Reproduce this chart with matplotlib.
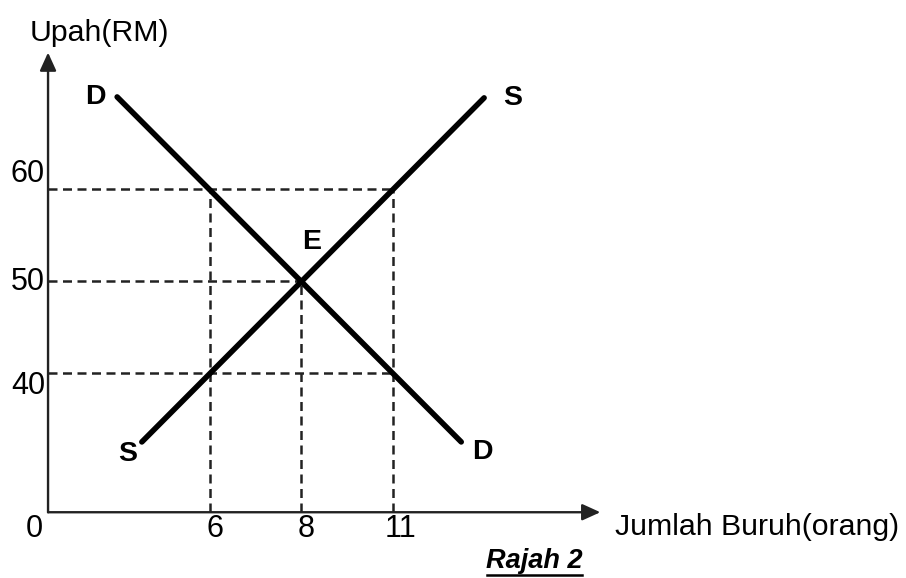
import matplotlib.pyplot as plt
from matplotlib.lines import Line2D
from matplotlib.transforms import offset_copy

plt.rcParams['font.family'] = ['Liberation Sans', 'DejaVu Sans']

# wage levels (RM) and labour quantities; x axis is schematic so the
# quantities sit on evenly spaced positions
wages = [60, 50, 40]
qty_labels = ['6', '8', '11']
qty_pos = [0, 1, 2]

# points on the demand and supply curves (quantity position, wage)
demand_pts = [(0, 60), (1, 50), (2, 40)]
supply_pts = [(0, 40), (1, 50), (2, 60)]

# curve end points as drawn
d_x = [-1.01, 2.75]
d_y = [69.9, 32.6]
s_x = [-0.74, 3.0]
s_y = [32.6, 69.8]
eq_x, eq_y = 1, 50

# axis origin (labelled 0) and arrow tips
x0, y0 = -1.765, 25.0
x_end, y_end = 4.27, 74.7

font_lab = {'family': ['Liberation Sans', 'DejaVu Sans'], 'size': 21.8}
font_tick = {'family': ['Liberation Sans', 'DejaVu Sans'], 'size': 22}
font_curve = {'family': ['Liberation Sans', 'DejaVu Sans'], 'size': 20.5, 'weight': 'bold'}

fig = plt.figure(figsize=(9.06, 5.78), dpi=100)
ax = fig.add_axes([0, 0, 1, 1])
ax.set_xlim(-2.29, 7.61)
ax.set_ylim(17.89, 80.38)
ax.axis('off')

def off(dx, dy):
    # offset in pixels (y up) -> points
    return offset_copy(ax.transData, fig=fig, x=dx * 0.72, y=dy * 0.72, units='points')

# axes with arrows
arrow = dict(arrowstyle='-|>,head_length=0.55,head_width=0.25', lw=1.7, color='#222222',
             mutation_scale=20, shrinkA=0, shrinkB=0)
ax.annotate('', xy=(x0, y_end), xytext=(x0, y0), arrowprops=arrow)
ax.annotate('', xy=(x_end, y0), xytext=(x0, y0), arrowprops=arrow)

# dashed guide lines
dash = dict(color='#222222', lw=1.8, linestyle=(0, (3.6, 2.2)))
for w in wages:
    xe = max(p for p, v in demand_pts + supply_pts if v == w)
    ax.plot([x0, xe], [w, w], **dash)
for p in qty_pos:
    ye = max(v for q, v in demand_pts + supply_pts if q == p)
    ax.plot([p, p], [y0, ye], **dash)

# demand and supply curves
ax.plot(d_x, d_y, color='black', lw=4.0, solid_capstyle='round')
ax.plot(s_x, s_y, color='black', lw=4.0, solid_capstyle='round')

# curve labels
ax.text(d_x[0], d_y[0], 'D', transform=off(-22, 0), ha='center', va='center', fontdict=font_curve)
ax.text(d_x[1], d_y[1], 'D', transform=off(21, -10), ha='center', va='center', fontdict=font_curve)
ax.text(s_x[0], s_y[0], 'S', transform=off(-14, -12), ha='center', va='center', fontdict=font_curve)
ax.text(s_x[1], s_y[1], 'S', transform=off(29, 0), ha='center', va='center', fontdict=font_curve)
ax.text(eq_x, eq_y, 'E', transform=off(11, 39), ha='center', va='center', fontdict=font_curve)

# tick labels
for p, lab in zip(qty_pos, qty_labels):
    dx = 8 if lab == '11' else 5
    ax.text(p, y0, lab, transform=off(dx, -25), ha='center', va='baseline', fontdict=font_tick)
label_dy = [7, -9, -21]
for w, dy in zip(wages, label_dy):
    ax.text(x0, w, str(w), transform=off(-3, dy), ha='right', va='baseline', fontdict=font_tick)
ax.text(x0, y0, '0', transform=off(-5, -25), ha='right', va='baseline', fontdict=font_tick)

# axis titles
ax.text(x0, y_end, 'Upah(RM)', transform=off(-18, 12), ha='left', va='baseline', fontdict=font_lab)
ax.text(x_end, y0, 'Jumlah Buruh(orang)', transform=off(15, -23), ha='left', va='baseline',
        fontdict=font_lab)

# caption, underlined
cap = fig.text(534 / 906, 1 - 568 / 578, 'Rajah 2', ha='center', va='baseline', fontsize=19.5,
               fontweight='bold', fontstyle='italic', family=['Liberation Sans', 'DejaVu Sans'])
fig.canvas.draw()
bb = cap.get_window_extent().transformed(fig.transFigure.inverted())
uy = 1 - 575 / 578
fig.add_artist(Line2D([bb.x0 + 0.002, bb.x1], [uy, uy], transform=fig.transFigure, color='black', lw=1.8))

plt.savefig('out.png', dpi=100)
